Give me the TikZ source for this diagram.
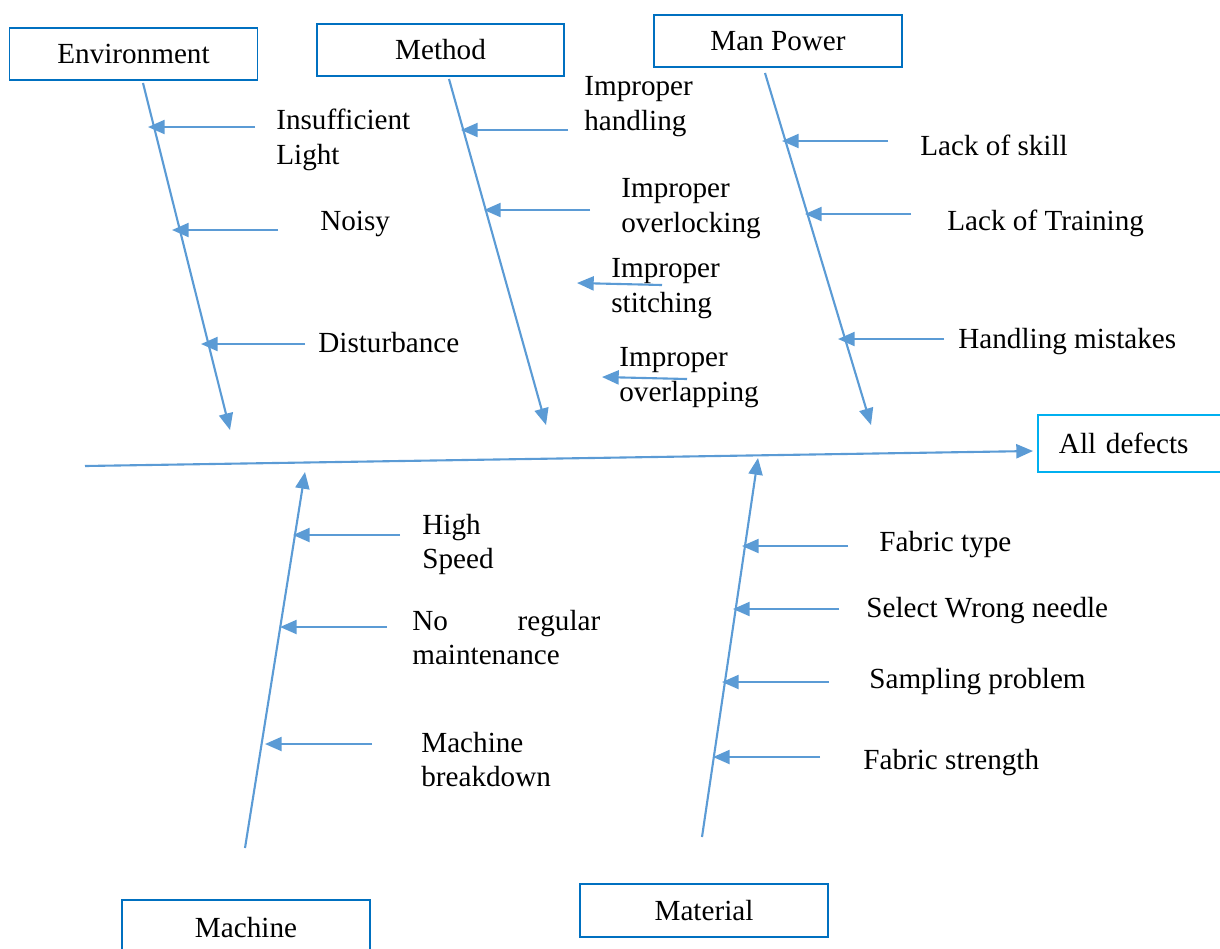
\documentclass[tikz,border=0pt]{standalone}
\usepackage{fontspec}
\setmainfont{Liberation Serif}
\usetikzlibrary{arrows.meta, positioning}
\definecolor{bonecol}{HTML}{5B9BD5}
\definecolor{boxcol}{HTML}{0070C0}
\definecolor{headcol}{HTML}{00B0F0}

\begin{document}
\begin{tikzpicture}[
        x=0.02cm, y=-0.02cm,
        every node/.style={font=\fontsize{16.6}{19.8}\selectfont},
        catbox/.style={draw=boxcol, line width=1.1pt, minimum width=4.96cm, minimum height=1.04cm, inner sep=0pt},
        cause/.style={anchor=west, align=left, inner sep=0pt, yshift=-0.05cm},
        bone/.style={draw=bonecol, line width=1.2pt, -{Triangle[length=9.5pt,width=8pt]}}
    ]
    \useasboundingbox (0,0) rectangle (1220,948);

    % Category boxes
    \node[catbox] (env) at (133.5,54) {Environment};
    \node[catbox, minimum width=4.94cm] (meth) at (440.5,50) {Method};
    \node[catbox] (man) at (778,41) {Man Power};
    \node[catbox, minimum height=1.1cm] (mach) at (246,927.5) {Machine};
    \node[catbox, minimum height=1.06cm] (mat) at (704,910.5) {Material};
    \node[draw=headcol, line width=1.1pt, anchor=west, align=left, text width=3.02cm,
          inner xsep=0.42cm, minimum height=1.14cm] (eff) at (1037,443.5) {All defects};

    % Spine ends
    \coordinate (tail) at (85,466);
    \coordinate (envtop) at (143,83);
    \coordinate (envhead) at (230,430);
    \coordinate (methtop) at (449,79);
    \coordinate (methhead) at (546,425);
    \coordinate (mantop) at (765,73);
    \coordinate (manhead) at (871,425);
    \coordinate (machbot) at (245,848);
    \coordinate (machhead) at (305,472);
    \coordinate (matbot) at (702,837);
    \coordinate (mathead) at (758,458);

    % Spines
    \draw[bone] (tail) -- ([xshift=-0.08cm, yshift=-0.15cm]eff.west);
    \draw[bone] (envtop) -- (envhead);
    \draw[bone] (methtop) -- (methhead);
    \draw[bone] (mantop) -- (manhead);
    \draw[bone] (machbot) -- (machhead);
    \draw[bone] (matbot) -- (mathead);

    % Causes: environment
    \node[cause] (ins) at (276,137) {Insufficient\\Light};
    \node[cause] (noisy) at (320,221) {Noisy};
    \node[cause] (dist) at (318,340) {Disturbance};
    \coordinate (e1) at (255,127); \coordinate (e1h) at (148,127);
    \coordinate (e2) at (278,230); \coordinate (e2h) at (172,230);
    \coordinate (e3) at (305,344); \coordinate (e3h) at (201,344);
    \draw[bone] (e1) -- (e1h);
    \draw[bone] (e2) -- (e2h);
    \draw[bone] (e3) -- (e3h);

    % Causes: method
    \node[cause] (handl) at (584,104) {Improper\\handling};
    \node[cause] (overlock) at (621,206) {Improper\\overlocking};
    \node[cause] (stitch) at (611,286) {Improper\\stitching};
    \node[cause] (overlap) at (619,375) {Improper\\overlapping};
    \coordinate (m1) at (568,130); \coordinate (m1h) at (461,130);
    \coordinate (m2) at (590,210); \coordinate (m2h) at (484,210);
    \coordinate (m3) at (662,285); \coordinate (m3h) at (577,283);
    \coordinate (m4) at (687,379); \coordinate (m4h) at (602,377);
    \draw[bone] (m1) -- (m1h);
    \draw[bone] (m2) -- (m2h);
    \draw[bone] (m3) -- (m3h);
    \draw[bone] (m4) -- (m4h);

    % Causes: man power
    \node[cause] (skill) at (920,143) {Lack of skill};
    \node[cause] (train) at (947,221) {Lack of Training};
    \node[cause] (mist) at (958,339) {Handling mistakes};
    \coordinate (p1) at (888,141); \coordinate (p1h) at (782,141);
    \coordinate (p2) at (911,214); \coordinate (p2h) at (805,214);
    \coordinate (p3) at (944,339); \coordinate (p3h) at (838,339);
    \draw[bone] (p1) -- (p1h);
    \draw[bone] (p2) -- (p2h);
    \draw[bone] (p3) -- (p3h);

    % Causes: machine
    \node[cause] (speed) at (422,542) {High\\Speed};
    \node[cause] (maint) at (412,635) {\makebox[3.76cm][s]{No regular}\\maintenance};
    \node[cause] (brk) at (421,757) {Machine\\breakdown};
    \coordinate (k1) at (400,535); \coordinate (k1h) at (293,535);
    \coordinate (k2) at (387,627); \coordinate (k2h) at (280,627);
    \coordinate (k3) at (372,744); \coordinate (k3h) at (265,744);
    \draw[bone] (k1) -- (k1h);
    \draw[bone] (k2) -- (k2h);
    \draw[bone] (k3) -- (k3h);

    % Causes: material
    \node[cause] (ftype) at (879,542) {Fabric type};
    \node[cause] (needle) at (866,608) {Select Wrong needle};
    \node[cause] (samp) at (869,679) {Sampling problem};
    \node[cause] (fstr) at (863,760) {Fabric strength};
    \coordinate (t1) at (848,546); \coordinate (t1h) at (742,546);
    \coordinate (t2) at (839,609); \coordinate (t2h) at (733,609);
    \coordinate (t3) at (829,682); \coordinate (t3h) at (722,682);
    \coordinate (t4) at (820,757); \coordinate (t4h) at (713,757);
    \draw[bone] (t1) -- (t1h);
    \draw[bone] (t2) -- (t2h);
    \draw[bone] (t3) -- (t3h);
    \draw[bone] (t4) -- (t4h);

\end{tikzpicture}
\end{document}
